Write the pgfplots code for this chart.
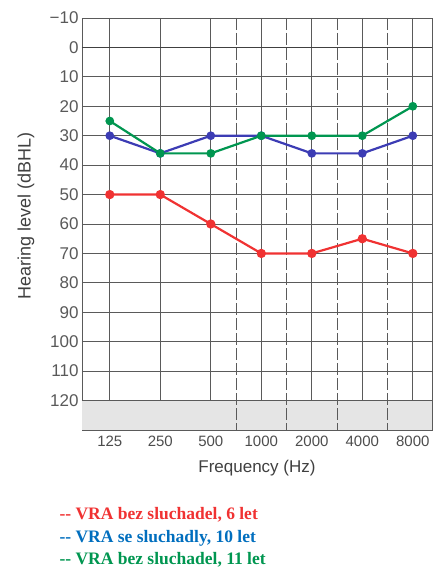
\documentclass[border=0pt]{standalone}
\usepackage{fontspec}
\setmainfont{Liberation Sans}
\newfontfamily\legfont{Liberation Serif}
\usepackage{pgfplots}
\pgfplotsset{compat=1.18}
\definecolor{audRed}{RGB}{240,50,50}
\definecolor{audBlue}{RGB}{60,60,180}
\definecolor{audGreen}{RGB}{0,150,80}
\definecolor{legBlue}{RGB}{0,110,190}
\definecolor{gridGray}{RGB}{90,90,90}
\begin{document}
\begin{tikzpicture}
\useasboundingbox (0pt,0pt) rectangle (432pt,569pt);
\begin{axis}[
  at={(82pt,139pt)}, anchor=south west,
  scale only axis, width=350pt, height=412pt,
  xmin=-0.55, xmax=6.38, ymin=-10, ymax=130, y dir=reverse,
  xtick={0,1,2,3,4,5,6},
  xticklabels={125,250,500,1000,2000,4000,8000},
  ytick={-10,0,10,20,30,40,50,60,70,80,90,100,110,120},
  yticklabels={−10,0,10,20,30,40,50,60,70,80,90,100,110,120},
  major tick length=0pt,
  xmajorgrids, ymajorgrids,
  major grid style={gridGray, line width=0.8pt},
  axis line style={gridGray, line width=0.8pt},
  yticklabel style={font=\fontsize{17}{18}\selectfont, text=black!65},
  xticklabel style={font=\fontsize{15}{16}\selectfont, text=black!70, yshift=-2pt},
  xlabel={Frequency (Hz)}, ylabel={Hearing level (dBHL)},
  xlabel style={font=\fontsize{17}{18}\selectfont, text=black!75,
    at={(axis description cs:0.5,-0.092)}, anchor=center},
  ylabel style={font=\fontsize{18}{20}\selectfont, text=black!75,
    at={(axis description cs:-0.16,0.52)}, anchor=center},
  clip=false,
]
\addplot[draw=none, fill=black!10] coordinates {(-0.55,120) (6.38,120) (6.38,130) (-0.55,130)} -- cycle;
\addplot[gridGray, line width=0.8pt, dash pattern=on 12pt off 3pt, forget plot] coordinates {(2.5,-10) (2.5,130)};
\addplot[gridGray, line width=0.8pt, dash pattern=on 12pt off 3pt, forget plot] coordinates {(3.5,-10) (3.5,130)};
\addplot[gridGray, line width=0.8pt, dash pattern=on 12pt off 3pt, forget plot] coordinates {(4.5,-10) (4.5,130)};
\addplot[gridGray, line width=0.8pt, dash pattern=on 12pt off 3pt, forget plot] coordinates {(5.5,-10) (5.5,130)};
\addplot[black!75, line width=1.8pt, forget plot] coordinates {(-0.55,0) (6.38,0)};
\addplot[gridGray, line width=0.8pt, forget plot] coordinates {(-0.55,120) (6.38,120)};
% VRA bez sluchadel, 6 let
\addplot[audRed, line width=2.2pt, mark=*, mark size=3.5pt] coordinates {
(0,50) (1,50) (2,60) (3,70) (4,70) (5,65) (6,70)};
% VRA se sluchadly, 10 let
\addplot[audBlue, line width=2.2pt, mark=*, mark size=3.2pt] coordinates {
(0,30) (1,36) (2,30) (3,30) (4,36) (5,36) (6,30)};
% VRA bez sluchadel, 11 let
\addplot[audGreen, line width=2.2pt, mark=*, mark size=3.2pt] coordinates {
(0,25) (1,36) (2,36) (3,30) (4,30) (5,30) (6,20)};
\end{axis}
\node[anchor=west, font=\legfont\bfseries\fontsize{17.5}{20}\selectfont, text=audRed] at (56pt,54pt) {-- VRA bez sluchadel, 6 let};
\node[anchor=west, font=\legfont\bfseries\fontsize{17.5}{20}\selectfont, text=legBlue] at (56pt,31pt) {-- VRA se sluchadly, 10 let};
\node[anchor=west, font=\legfont\bfseries\fontsize{17.5}{20}\selectfont, text=audGreen] at (56pt,9pt) {-- VRA bez sluchadel, 11 let};
\end{tikzpicture}
\end{document}
